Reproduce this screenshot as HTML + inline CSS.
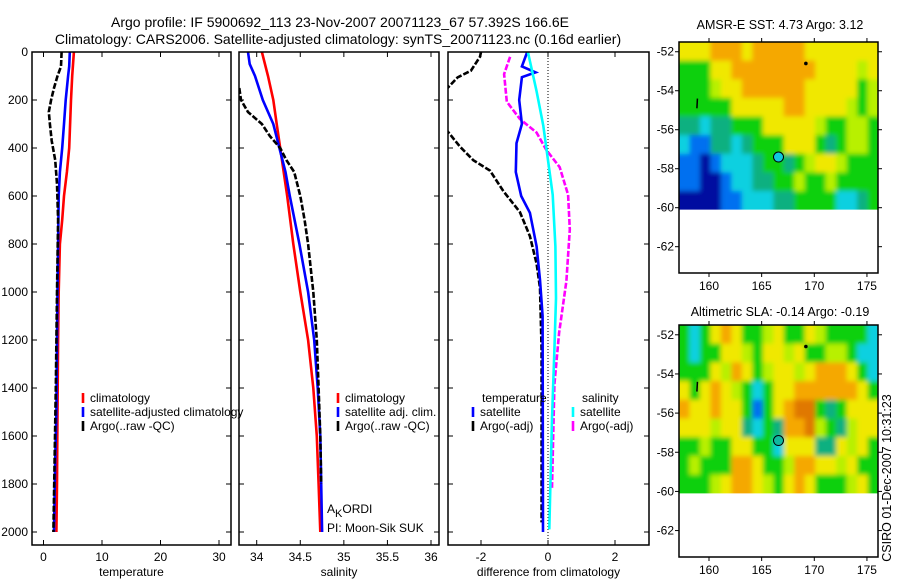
<!DOCTYPE html>
<html><head><meta charset="utf-8"><style>
html,body{margin:0;padding:0;background:#fff;width:900px;height:580px;overflow:hidden}
svg{display:block;font-family:"Liberation Sans",sans-serif}
</style></head><body>
<svg id="fig" width="900" height="580" viewBox="0 0 900 580">
<defs><filter id="soft" x="-5%" y="-5%" width="110%" height="110%"><feGaussianBlur stdDeviation="2.5"/></filter></defs>
<text x="340" y="27" font-size="14" text-anchor="middle">Argo profile: IF 5900692_113 23-Nov-2007 20071123_67 57.392S 166.6E</text>
<text x="338" y="44" font-size="14" text-anchor="middle">Climatology: CARS2006. Satellite-adjusted climatology: synTS_20071123.nc (0.16d earlier)</text>
<text x="780" y="29" font-size="12.5" text-anchor="middle">AMSR-E SST: 4.73 Argo: 3.12</text>
<text x="780" y="316" font-size="12.5" text-anchor="middle">Altimetric SLA: -0.14 Argo: -0.19</text>
<text transform="translate(891,478) rotate(-90)" font-size="12.5" text-anchor="middle">CSIRO 01-Dec-2007 10:31:23</text>
</svg>
<script>
// ---- profile data (depth in dbar) ----
const tClimD=[0,100,200,400,500,600,700,800,1000,1200,1500,1800,2000];
const tClimV=[5.2,4.9,4.7,4.4,4.0,3.5,3.2,2.8,2.6,2.5,2.4,2.3,2.2];
const tSatD=[0,60,100,200,300,400,500,600,800,1000,1200,1500,1700,2000];
const tSatV=[4.5,4.4,4.2,3.8,3.5,3.2,2.8,2.6,2.5,2.4,2.3,2.2,2.0,1.8];
const tArgoD=[0,60,100,150,200,250,300,370,450,550,700,1000,1400,1700,2000];
const tArgoV=[3.1,3.0,2.4,1.8,1.3,0.9,1.1,1.4,2.0,2.3,2.5,2.3,2.1,1.9,1.7];
const sClimD=[0,100,200,300,400,500,600,800,1000,1200,1400,1600,1800,2000];
const sClimV=[34.06,34.13,34.19,34.23,34.27,34.31,34.35,34.42,34.5,34.59,34.65,34.69,34.71,34.73];
const sSatD=[0,50,100,200,300,400,500,600,800,1000,1200,1400,1600,1800,2000];
const sSatV=[33.9,33.92,33.98,34.07,34.19,34.26,34.33,34.38,34.49,34.59,34.66,34.7,34.73,34.74,34.75];
const sArgoD=[150,200,250,300,350,400,450,500,600,700,800,1000,1200,1400,1600,1800];
const sArgoV=[33.8,33.82,33.9,34.06,34.15,34.27,34.34,34.43,34.5,34.55,34.59,34.65,34.69,34.71,34.73,34.74];
const dTSatD=[0,60,85,105,200,300,380,500,600,670,810,950,1100,2000];
const dTSatV=[-0.62,-0.78,-0.37,-0.78,-0.86,-0.78,-0.94,-0.96,-0.8,-0.54,-0.34,-0.24,-0.16,-0.15];
const dTArgoD=[0,20,78,106,150,200,330,394,451,494,580,667,767,882,983,1241,1960];
const dTArgoV=[-2.0,-2.03,-2.3,-2.7,-3.0,-3.5,-3.0,-2.63,-2.23,-1.73,-1.33,-0.84,-0.54,-0.34,-0.24,-0.19,-0.19];
const dSSatD=[0,164,307,451,595,810,1026,1241,1529,1989];
const dSSatV=[-0.6,-0.34,-0.14,0.0,0.14,0.22,0.24,0.19,0.12,0.04];
const dSArgoD=[20,92,207,279,336,408,480,595,739,954,1170,1385,1816];
const dSArgoV=[-1.13,-1.31,-1.23,-0.84,-0.34,-0.05,0.35,0.6,0.65,0.55,0.33,0.19,0.12];
const depthTicks=[0,200,400,600,800,1000,1200,1400,1600,1800,2000];
const tempTicks=[0,10,20,30];
const salTicks=[34,34.5,35,35.5,36];
const diffTicks=[-2,0,2];
// ---- map data (1-degree cells, rows north->south from -51.5) ----
const mapLon0=157.15, mapLon1=176.05, mapLat0=-51.5, mapLat1=-63.35, dataLatBottom=-60.1;
const sstRows=[
"YYYOOOYOOOOOYYYYYYY",
"GGGYYOOOOOOOOYYYYLY",
"GGGLYYOOOOOOYYYYYGL",
"GGGGGYYYYYOOYYYYLGL",
"TTCTTGGGYYYYYLGGLLG",
"CBBTTCTGGGYYYGTGLLG",
"BBDBCCCTGGTGLYYLGGG",
"BBDDBCCTTGGLGGLGGGG",
"DDDDBBCCCTTGGGGCCTG"];
const slaRows=[
"GCGYOYGGLYGGYLGGGGC",
"GCGGYYLGYYLYGGLLGCC",
"GGGYLOYGLYYLYOOOYGC",
"YGYOYLGCGYYOOOOOOYG",
"OYYOYYGBGYORRGTGYYY",
"YYYLYYTCGTOORLGTLYY",
"GGLGGYYGGCYYYTTYLYG",
"GLGGGOOYGGLOOYYLYGG",
"GGGLYOOYLGYOYGGGLYG"];
const latTicks=[-52,-54,-56,-58,-60,-62];
const lonTicks=[160,165,170,175];
const floatLon=166.6, floatLat=-57.4;

const NS='http://www.w3.org/2000/svg';
const svg=document.getElementById('fig');
function el(tag,attrs,parent){const e=document.createElementNS(NS,tag);for(const k in attrs)e.setAttribute(k,attrs[k]);(parent||svg).appendChild(e);return e;}
function txt(s,attrs,parent){const e=el('text',attrs,parent);e.textContent=s;return e;}
const PT=52,PB=545;
const yD=d=>PT+d*0.24;
function mkX(x0,x1,v0,v1){return v=>x0+(v-v0)/(v1-v0)*(x1-x0);}

function panel(name,x0,x1,xs,ticks,label,showY){
  const g=el('g',{});
  
  
  const cp=el('clipPath',{id:'clip-'+name},g);
  el('rect',{x:x0,y:PT,width:x1-x0,height:PB-PT},cp);
  for(const d of depthTicks){
    el('line',{x1:x0,y1:yD(d),x2:x0+5,y2:yD(d),stroke:'#000'},g);
    el('line',{x1:x1,y1:yD(d),x2:x1-5,y2:yD(d),stroke:'#000'},g);
    if(showY){const t=txt(String(d),{x:x0-4,y:yD(d)+4,'font-size':12,'text-anchor':'end'},g);
      }
  }
  for(const v of ticks){
    const x=xs(v);
    el('line',{x1:x,y1:PB,x2:x,y2:PB-5,stroke:'#000'},g);
    el('line',{x1:x,y1:PT,x2:x,y2:PT+5,stroke:'#000'},g);
    const t=txt(String(v),{x:x,y:PB+16,'font-size':12,'text-anchor':'middle'},g);
    
  }
  const l=txt(label,{x:(x0+x1)/2,y:PB+31,'font-size':12,'text-anchor':'middle'},g);
  
  return {g,clip:'url(#clip-'+name+')',xs,x0,x1};
}
function series(p,name,D,V,color,dash){
  const pts=D.map((d,i)=>p.xs(V[i]).toFixed(1)+','+yD(d).toFixed(1)).join(' ');
  const a={points:pts,fill:'none',stroke:color,'stroke-width':2.6,'clip-path':p.clip};
  if(dash)a['stroke-dasharray']=dash;
  const e=el('polyline',a,p.g);
  
  
}
function frame(p){el('rect',{x:p.x0,y:PT,width:p.x1-p.x0,height:PB-PT,fill:'none',stroke:'#000','stroke-width':1.5},p.g);}
function legendEntry(p,name,x,y,color,label){
  const g=el('g',{},p.g);
  
  
  if(color)el('line',{x1:x,y1:y-9,x2:x,y2:y+1,stroke:color,'stroke-width':2.6},g);
  txt(label,{x:x+7,y:y,'font-size':12},g);
}

// panel 1 temperature
const p1=panel('temperature-panel',32,231,mkX(43.5,219,0,30),tempTicks,'temperature',true);
series(p1,'temp-climatology-line',tClimD,tClimV,'#f00');
series(p1,'temp-satellite-line',tSatD,tSatV,'#00f');
series(p1,'temp-argo-line',tArgoD,tArgoV,'#000','6,2');
frame(p1);
legendEntry(p1,'legend-climatology',83,402,'#f00','climatology');
legendEntry(p1,'legend-satellite-adjusted',83,416,'#00f','satellite-adjusted climatology');
legendEntry(p1,'legend-argo',83,430,'#000','Argo(..raw -QC)');
// panel 2 salinity
const p2=panel('salinity-panel',239,439,mkX(256.7,431,34,36),salTicks,'salinity',false);
series(p2,'sal-climatology-line',sClimD,sClimV,'#f00');
series(p2,'sal-satellite-line',sSatD,sSatV,'#00f');
series(p2,'sal-argo-line',sArgoD,sArgoV,'#000','6,2');
frame(p2);
legendEntry(p2,'legend-climatology-sal',338,402,'#f00','climatology');
legendEntry(p2,'legend-satellite-sal',338,416,'#00f','satellite adj. clim.');
legendEntry(p2,'legend-argo-sal',338,430,'#000','Argo(..raw -QC)');
const k=txt('',{x:327,y:513,'font-size':12},p2.g);

k.innerHTML='A<tspan dy="4" font-size="11">K</tspan><tspan dy="-4">ORDI</tspan>';
const pi=txt('PI: Moon-Sik SUK',{x:327,y:532,'font-size':12},p2.g);

// panel 3 difference
const p3=panel('difference-panel',448,649,mkX(481,615,-2,2),diffTicks,'difference from climatology',false);
el('line',{x1:p3.xs(0),y1:PT,x2:p3.xs(0),y2:PB,stroke:'#000','stroke-dasharray':'1,2'},p3.g);
series(p3,'diff-temp-argo-line',dTArgoD,dTArgoV,'#000','6,2');
series(p3,'diff-sal-argo-line',dSArgoD,dSArgoV,'#f0f','6,2');
series(p3,'diff-temp-satellite-line',dTSatD,dTSatV,'#00f');
series(p3,'diff-sal-satellite-line',dSSatD,dSSatV,'#0ff');
frame(p3);
legendEntry(p3,'legend-temperature-header',475,402,null,'temperature');
legendEntry(p3,'legend-temp-satellite',473,416,'#00f','satellite');
legendEntry(p3,'legend-temp-argo',473,430,'#000','Argo(-adj)');
legendEntry(p3,'legend-salinity-header',575,402,null,'salinity');
legendEntry(p3,'legend-sal-satellite',573,416,'#0ff','satellite');
legendEntry(p3,'legend-sal-argo',573,430,'#f0f','Argo(-adj)');

// maps
const colors={O:'#f5a800',R:'#e07800',Y:'#f0e800',L:'#b8f000',G:'#10d010',T:'#10b080',C:'#10d0e0',B:'#0070f0',D:'#0010a0'};
function map(name,fx0,fy0,fy1,rows,markerFill){
  const fx1=878;
  const g=el('g',{});
  
  
  const lx=v=>fx0+(v-mapLon0)/(mapLon1-mapLon0)*(fx1-fx0);
  const ly=v=>fy0+(v-mapLat0)/(mapLat1-mapLat0)*(fy1-fy0);
  const nR=rows.length,nC=rows[0].length;
  const yb=ly(dataLatBottom);
  const cw=(fx1-fx0)/nC, ch=(yb-fy0)/nR;
  const cid='clip-'+name;
  const cp=el('clipPath',{id:cid},g);
  el('rect',{x:fx0,y:fy0,width:fx1-fx0,height:yb-fy0},cp);
  const outer=el('g',{'clip-path':'url(#'+cid+')'},g);
  const cells=el('g',{filter:'url(#soft)'},outer);
  rows.forEach((r,i)=>{[...r].forEach((c,j)=>{
    let x=fx0+j*cw,y=fy0+i*ch,w=cw+0.6,h=ch+0.6;
    if(j===0){x-=8;w+=8;} if(j===nC-1){w+=8;}
    if(i===0){y-=8;h+=8;} if(i===nR-1){h+=8;}
    el('rect',{x:x.toFixed(1),y:y.toFixed(1),width:w.toFixed(1),height:h.toFixed(1),fill:colors[c]},cells);
  });});
  el('rect',{x:fx0,y:fy0,width:fx1-fx0,height:fy1-fy0,fill:'none',stroke:'#000','stroke-width':1.5},g);
  for(const v of latTicks){const y=ly(v);
    el('line',{x1:fx0,y1:y,x2:fx0-4,y2:y,stroke:'#000'},g);
    el('line',{x1:fx1,y1:y,x2:fx1+4,y2:y,stroke:'#000'},g);
    const t=txt(String(v),{x:fx0-5,y:y+4,'font-size':12,'text-anchor':'end'},g);
    }
  for(const v of lonTicks){const x=lx(v);
    el('line',{x1:x,y1:fy1,x2:x,y2:fy1+4,stroke:'#000'},g);
    el('line',{x1:x,y1:fy0,x2:x,y2:fy0-4,stroke:'#000'},g);
    const t=txt(String(v),{x:x,y:fy1+17,'font-size':12,'text-anchor':'middle'},g);
    }
  el('circle',{cx:lx(169.2),cy:ly(-52.6),r:1.8,fill:'#000'},g);
  el('line',{x1:lx(158.9),y1:ly(-54.4),x2:lx(158.85),y2:ly(-54.9),stroke:'#000','stroke-width':1.5},g);
  const m=el('circle',{cx:lx(floatLon),cy:ly(floatLat),r:5,fill:markerFill,stroke:'#000'},g);
  
  
}
map('sst-map',679,42,273,sstRows,'#10c8e0');
map('sla-map',679,325,557,slaRows,'#10b8a0');
</script>
</body></html>
